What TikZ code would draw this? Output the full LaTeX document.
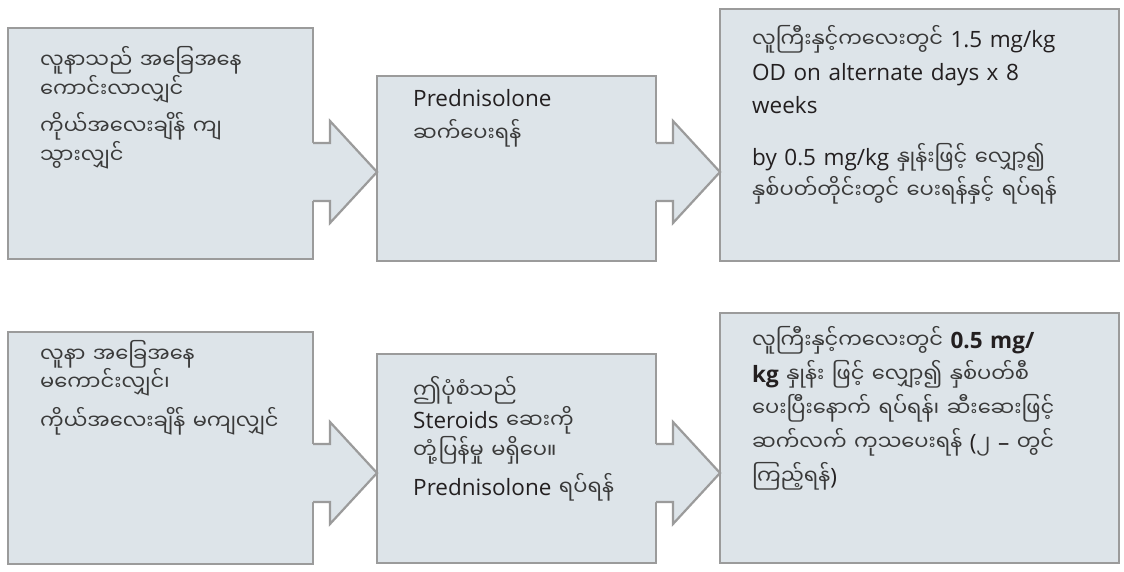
\documentclass[tikz,border=0pt]{standalone}
\usepackage{fontspec}
\setmainfont{Open Sans}
\newfontfamily\mya[Script=Myanmar,Scale=0.933]{Noto Sans Myanmar UI}
\usepackage{tikz}
\usetikzlibrary{positioning, calc}
\definecolor{boxfill}{HTML}{DDE4E9}
\definecolor{boxline}{HTML}{9B9B9B}
\definecolor{ink}{HTML}{231F20}
\definecolor{myink}{HTML}{3A3A3A}
\newcommand{\my}[1]{{\mya\color{myink}#1}}
\tikzset{
  flow box/.style={
    draw=boxline, line width=2.2pt, fill=boxfill,
    anchor=north west, inner sep=0pt, outer sep=0pt
  },
  flow text/.style={
    anchor=base west, align=left, text width=380pt,
    inner sep=0pt, text=ink
  },
  arrow rim/.style={draw=boxline, line width=2.2pt, line join=miter}
}
% block arrow from the right side of one box to the left side of the next
\newcommand{\flowarrow}[3]{%
  \fill[boxfill] ($(#1.east |- #3)+(-1.5,-29)$) -- ($(#1.east |- #3)+(17,-29)$)
    -- ($(#1.east |- #3)+(17,-51)$) -- (#2.west |- #3)
    -- ($(#1.east |- #3)+(17,51)$) -- ($(#1.east |- #3)+(17,29)$)
    -- ($(#1.east |- #3)+(-1.5,29)$) -- cycle;
  \draw[arrow rim] ($(#1.east |- #3)+(0,-29)$) -- ($(#1.east |- #3)+(17,-29)$)
    -- ($(#1.east |- #3)+(17,-51)$) -- (#2.west |- #3)
    -- ($(#1.east |- #3)+(17,51)$) -- ($(#1.east |- #3)+(17,29)$)
    -- ($(#1.east |- #3)+(0,29)$);
}
\begin{document}
\begin{tikzpicture}[x=1pt, y=-1pt]
  \fill[white] (0,0) rectangle (1124,572);
  \useasboundingbox (0,0) rectangle (1124,572);

  % Rows of the arrows
  \coordinate (row1) at (0,172);
  \coordinate (row2) at (0,473);

  % Upper row
  \node[flow box, minimum width=305pt, minimum height=231pt] (good) at (8,28) {};
  \node[flow box, minimum width=279pt, minimum height=185pt] (give) at (377,76) {};
  \node[flow box, minimum width=399pt, minimum height=252pt] (taper) at (720,9) {};
  \flowarrow{good}{give}{row1}
  \flowarrow{give}{taper}{row1}

  % Lower row
  \node[flow box, minimum width=305pt, minimum height=232pt] (bad) at (8,332) {};
  \node[flow box, minimum width=279pt, minimum height=209pt] (resist) at (377,354) {};
  \node[flow box, minimum width=399pt, minimum height=250pt] (stop) at (720,313) {};
  \flowarrow{bad}{resist}{row2}
  \flowarrow{resist}{stop}{row2}

  % Texts
  \node[flow text, font=\fontsize{22.5}{27}\selectfont] (good text) at ($(good.north west)+(32,41)$)
    {\my{လူနာသည် အခြေအနေ}\\ \my{ကောင်းလာလျှင်}\\[8pt]
     \my{ကိုယ်အလေးချိန် ကျ}\\ \my{သွားလျှင်}};
  \node[flow text, font=\fontsize{22.5}{35}\selectfont] (give text) at ($(give.north west)+(36,31)$)
    {Prednisolone\\ \my{ဆက်ပေးရန်}};
  \node[flow text, font=\fontsize{22.5}{33}\selectfont] (taper text) at ($(taper.north west)+(32,39)$)
    {\my{လူကြီးနှင့်ကလေးတွင်} 1.5 mg/kg\\ OD on alternate days x 8\\ weeks\\[19pt]
     by 0.5 mg/kg \my{နှုန်းဖြင့် လျှော့၍}\\ \my{နှစ်ပတ်တိုင်းတွင် ပေးရန်နှင့် ရပ်ရန်}};
  \node[flow text, font=\fontsize{22.5}{27}\selectfont] (bad text) at ($(bad.north west)+(32,30)$)
    {\my{လူနာ အခြေအနေ}\\ \my{မကောင်းလျှင်၊}\\[10pt]
     \my{ကိုယ်အလေးချိန် မကျလျှင်}};
  \node[flow text, font=\fontsize{22.5}{30}\selectfont] (resist text) at ($(resist.north west)+(36,44)$)
    {\my{ဤပုံစံသည်}\\ Steroids \my{ဆေးကို}\\ \my{တုံ့ပြန်မှု မရှိပေ။}\\[7pt]
     Prednisolone \my{ရပ်ရန်}};
  \node[flow text, font=\fontsize{22.5}{34}\selectfont] (stop text) at ($(stop.north west)+(32,35)$)
    {\my{လူကြီးနှင့်ကလေးတွင်} \textbf{0.5 mg/}\\
     \textbf{kg} \my{နှုန်း ဖြင့် လျှော့၍ နှစ်ပတ်စီ}\\
     \my{ပေးပြီးနောက် ရပ်ရန်၊ ဆီးဆေးဖြင့်}\\
     \my{ဆက်လက် ကုသပေးရန်} (\my{၂} – \my{တွင်}\\
     \my{ကြည့်ရန်})};
\end{tikzpicture}
\end{document}
